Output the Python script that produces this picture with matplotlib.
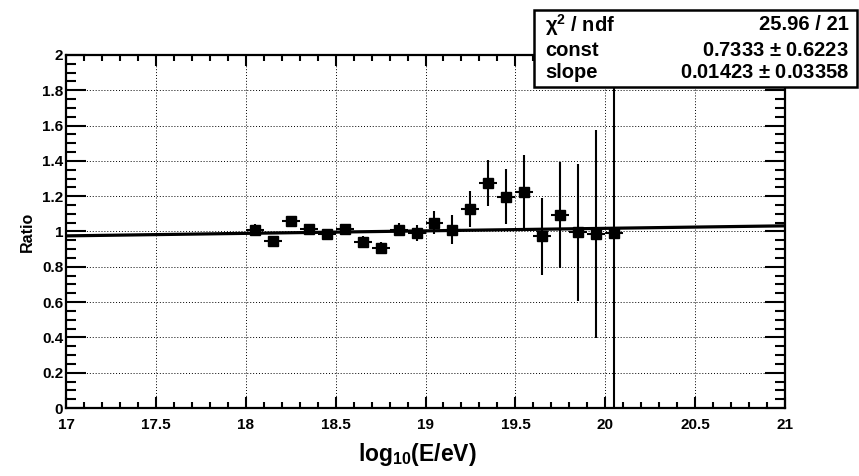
#!/usr/bin/env python3
# -*- coding: utf-8 -*-

import matplotlib
matplotlib.use("Agg")
import matplotlib.pyplot as plt
from matplotlib.patches import Rectangle
from matplotlib.ticker import MultipleLocator
import numpy as np

plt.rcParams["font.family"] = ["Liberation Sans", "DejaVu Sans"]
plt.rcParams["font.weight"] = "bold"
plt.rcParams["mathtext.fontset"] = "custom"
plt.rcParams["mathtext.bf"] = "Liberation Sans:bold"
plt.rcParams["mathtext.rm"] = "Liberation Sans"
plt.rcParams["mathtext.default"] = "bf"

# bin centres, ratio and errors
energy = [18.05, 18.15, 18.25, 18.35, 18.45, 18.55, 18.65, 18.75, 18.85, 18.95,
          19.05, 19.15, 19.25, 19.35, 19.45, 19.55, 19.65, 19.75, 19.85, 19.95, 20.05]
ratio = [1.007, 0.946, 1.058, 1.015, 0.985, 1.015, 0.942, 0.905, 1.011, 0.990,
         1.050, 1.011, 1.128, 1.277, 1.197, 1.225, 0.972, 1.093, 0.995, 0.986, 0.990]
err_lo = [0.035, 0.03, 0.03, 0.03, 0.03, 0.03, 0.03, 0.035, 0.035, 0.045,
          0.064, 0.082, 0.10, 0.13, 0.155, 0.21, 0.22, 0.30, 0.39, 0.59, 0.990]
err_hi = [0.035, 0.03, 0.03, 0.03, 0.03, 0.03, 0.03, 0.035, 0.035, 0.045,
          0.064, 0.082, 0.10, 0.13, 0.155, 0.21, 0.22, 0.30, 0.39, 0.59, 1.20]
bin_half = 0.05

# pol1 fit result
chi2, ndf = 25.96, 21
const, const_err = 0.7333, 0.6223
slope, slope_err = 0.01423, 0.03358

W, H = 859, 476
fig = plt.figure(figsize=(W / 100, H / 100), dpi=100)
ax = fig.add_axes([66 / W, 1 - 408 / H, (785 - 66) / W, (408 - 55) / H])

ax.set_xlim(17, 21)
ax.set_ylim(0, 2)

ax.grid(True, which="major", color="black", linestyle=(0, (1, 2)), linewidth=0.7)
ax.set_axisbelow(True)

xf = np.array([17, 21])
ax.plot(xf, const + slope * xf, color="black", lw=2.3, zorder=3)

ax.errorbar(energy, ratio, xerr=bin_half, yerr=[err_lo, err_hi], fmt="s",
            color="black", ms=7.8, elinewidth=1.5, capsize=0, clip_on=False, zorder=4)

for s in ax.spines.values():
    s.set_linewidth(1.6)

ax.xaxis.set_major_locator(MultipleLocator(0.5))
ax.xaxis.set_minor_locator(MultipleLocator(0.1))
ax.yaxis.set_major_locator(MultipleLocator(0.2))
ax.yaxis.set_minor_locator(MultipleLocator(0.05))

def fmt(v, p=None):
    return "%g" % round(v, 3)

ax.xaxis.set_major_formatter(fmt)
ax.yaxis.set_major_formatter(fmt)

ax.tick_params(axis="x", which="major", direction="in", length=8, width=1.5,
               top=True, labelsize=11, pad=7)
ax.tick_params(axis="x", which="minor", direction="in", length=4.3, width=1.5, top=True)
ax.tick_params(axis="y", which="major", direction="in", length=14.5, width=1.5,
               right=True, labelsize=11, pad=2)
ax.tick_params(axis="y", which="minor", direction="in", length=7.2, width=1.5, right=True)
for lab in ax.get_xticklabels() + ax.get_yticklabels():
    lab.set_fontweight("bold")

fig.text(27 / W, 1 - 232 / H, "Ratio", fontsize=11.5, fontweight="bold",
         rotation=90, ha="center", va="center")
fig.text(417 / W, 1 - 455 / H, r"log$_{10}$(E/eV)", fontsize=16.5, fontweight="bold",
         ha="center", va="center")

# stats box
fig.patches.append(Rectangle((534 / W, 1 - 87 / H), (857 - 534) / W, (87 - 10) / H,
                             transform=fig.transFigure, facecolor="white",
                             edgecolor="black", lw=1.8, zorder=10))
rows = [(r"$\mathrm{\chi}^{2}$ / ndf", "%.2f / %d" % (chi2, ndf)),
        ("const", "%.4f $\\mathrm{\\pm}$ %.4f" % (const, const_err)),
        ("slope", "%.5f $\\mathrm{\\pm}$ %.5f" % (slope, slope_err))]
ys = [25, 50, 73]
for (lab, val), y in zip(rows, ys):
    fig.text(545 / W, 1 - y / H, lab, fontsize=14.5, fontweight="bold",
             ha="left", va="center", zorder=11)
    fig.text(849 / W, 1 - y / H, val, fontsize=14.5, fontweight="bold",
             ha="right", va="center", zorder=11)

fig.savefig("out.png", dpi=100)
